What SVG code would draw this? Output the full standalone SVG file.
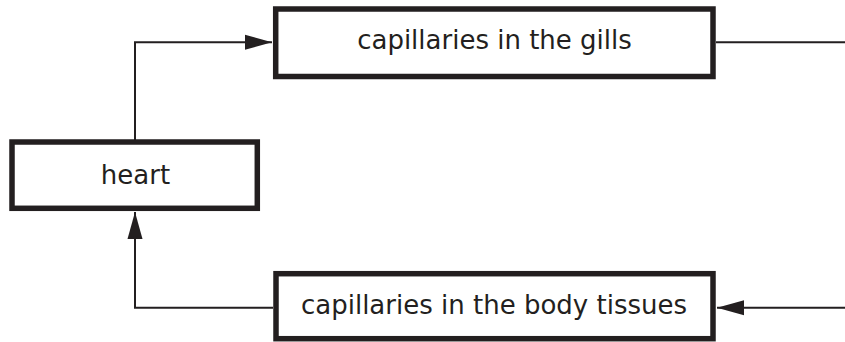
<svg xmlns="http://www.w3.org/2000/svg" width="845" height="342" viewBox="0 0 845 342">
<style>
.box{fill:#fff;stroke:#231f20;stroke-width:5.5}
.lbl{font-family:"DejaVu Sans",Verdana,sans-serif;font-size:26px;fill:#231f20;text-anchor:middle}
.con{fill:none;stroke:#231f20;stroke-width:2}
</style>
<defs>
<marker id="ah" markerUnits="userSpaceOnUse" markerWidth="28" markerHeight="16" refX="27" refY="8" orient="auto" viewBox="0 0 28 16">
<path d="M0,0.5 L27,8 L0,15.5 Z" fill="#231f20"/>
</marker>
</defs>
<rect width="845" height="342" fill="#fff"/>
<g id="connectors">
<path class="con" d="M135,141 V42.3 H272" marker-end="url(#ah)"/>
<path class="con" d="M716,42.3 H845"/>
<path class="con" d="M273,307.7 H135 V212" marker-end="url(#ah)"/>
<path class="con" d="M845,307.7 H717" marker-end="url(#ah)"/>
</g>
<g id="gills">
<rect class="box" x="275.7" y="9" width="437.3" height="67.5"/>
<text class="lbl" x="494.5" y="49.3">capillaries in the gills</text>
</g>
<g id="heart">
<rect class="box" x="12" y="142" width="245.3" height="66.3"/>
<text class="lbl" x="135.5" y="184.3">heart</text>
</g>
<g id="body">
<rect class="box" x="276" y="273.7" width="437" height="65"/>
<text class="lbl" x="494" y="314.3">capillaries in the body tissues</text>
</g>
</svg>
